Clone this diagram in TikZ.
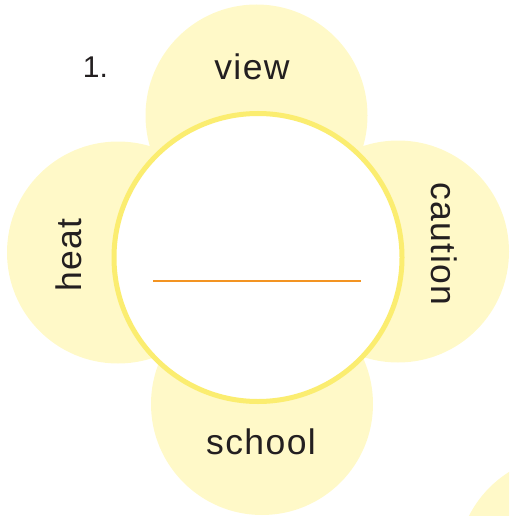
\documentclass[tikz,border=0pt]{standalone}
\usepackage{fontspec}
\setmainfont{Liberation Sans}
\newfontfamily\wordfont[LetterSpace=4]{Liberation Sans}
\definecolor{petalfill}{RGB}{255,249,200}
\definecolor{ringcol}{RGB}{251,237,112}
\definecolor{linecol}{RGB}{243,148,34}
\definecolor{textcol}{RGB}{35,31,32}
\begin{document}
\begin{tikzpicture}[x=1pt,y=-1pt,
  petal/.style={circle,fill=petalfill,draw=none,minimum size=222pt,inner sep=0pt},
  hub/.style={circle,fill=white,draw=ringcol,line width=5pt,minimum size=288pt,inner sep=0pt},
  word/.style={text=textcol,font=\wordfont\fontsize{35.5}{40}\selectfont,inner sep=0pt,anchor=base},
  numlabel/.style={text=textcol,font=\fontsize{25}{30}\selectfont,inner sep=0pt,anchor=base}]
\useasboundingbox (0,0) rectangle (509,516);
\clip (0,0) rectangle (509,516);
\node[petal] (ptop) at (256.5,115.5) {};
\node[petal] (pleft) at (118,252.5) {};
\node[petal] (pright) at (398,251.5) {};
\node[petal] (pbottom) at (262,404) {};
\node[petal] (pcorner) at (568,566) {};
\node[hub] (hub) at (258,257.5) {};
\coordinate (la) at (153,281);
\coordinate (lb) at (361,281);
\draw[linecol,line width=2pt] (la) -- (lb);
\node[word] (view) at (252,80) {view};
\node[word] (school) at (261,454) {school};
\node[word,rotate=90] (heat) at (81,255) {heat};
\node[word,rotate=-90] (caution) at (431,244) {caution};
\node[numlabel,scale=1.2] (num) at (95.5,78) {1.};
\end{tikzpicture}
\end{document}
